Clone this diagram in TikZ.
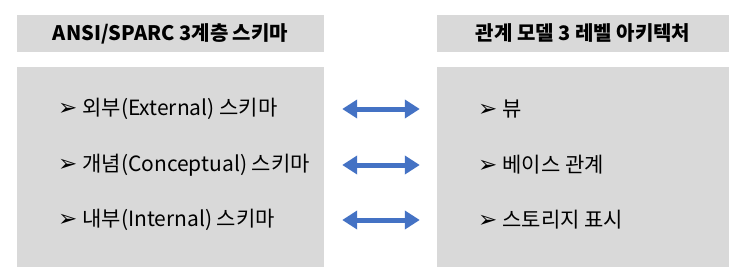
\documentclass[tikz,border=0pt]{standalone}
\usepackage{fontspec}
\setmainfont{Noto Sans CJK KR}
\newfontfamily\symfont{DejaVu Sans}
\usetikzlibrary{arrows.meta, positioning}
\definecolor{boxgray}{HTML}{D9D9D9}
\definecolor{arrblue}{HTML}{4472C4}
\newcommand{\itemmark}{{\symfont\fontsize{23}{23}\selectfont ➢}\hspace{5pt}}

\begin{document}
\begin{tikzpicture}[x=1pt, y=-1pt,
    header/.style={fill=boxgray, minimum height=37pt, inner sep=0pt,
                   font=\bfseries\fontsize{20}{23}\selectfont},
    panel/.style={fill=boxgray, minimum height=200pt, inner sep=0pt},
    entry/.style={anchor=west, inner sep=0pt, font=\fontsize{21}{24}\selectfont},
    arr/.style={{Triangle[length=15pt,width=18pt]}-{Triangle[length=15pt,width=18pt]},
                line width=5pt, arrblue, shorten <=18pt, shorten >=17pt}
  ]
    \useasboundingbox (0,0) rectangle (741,278);

    % headers
    \node[header, minimum width=307pt] (lhead) at (170.5,33.5) {ANSI/SPARC 3계층 스키마};
    \node[header, minimum width=292pt] (rhead) at (583,33.5)   {관계 모델 3 레벨 아키텍처};

    % panels
    \node[panel, minimum width=307pt] (lbody) at (170.5,167) {};
    \node[panel, minimum width=292pt] (rbody) at (583,167)   {};

    % left items
    \node[entry] (ext)  at (58,109) {\itemmark 외부(External) 스키마};
    \node[entry] (conc) at (58,165) {\itemmark 개념(Conceptual) 스키마};
    \node[entry] (intl) at (58,220) {\itemmark 내부(Internal) 스키마};

    % right items
    \node[entry] (view) at (478,109) {\itemmark 뷰};
    \node[entry] (base) at (478,165) {\itemmark 베이스 관계};
    \node[entry] (stor) at (478,220) {\itemmark 스토리지 표시};

    % correspondences
    \draw[arr] (ext.center -| lbody.east)  -- (view.center -| rbody.west);
    \draw[arr] (conc.center -| lbody.east) -- (base.center -| rbody.west);
    \draw[arr] (intl.center -| lbody.east) -- (stor.center -| rbody.west);
  \end{tikzpicture}
\end{document}
